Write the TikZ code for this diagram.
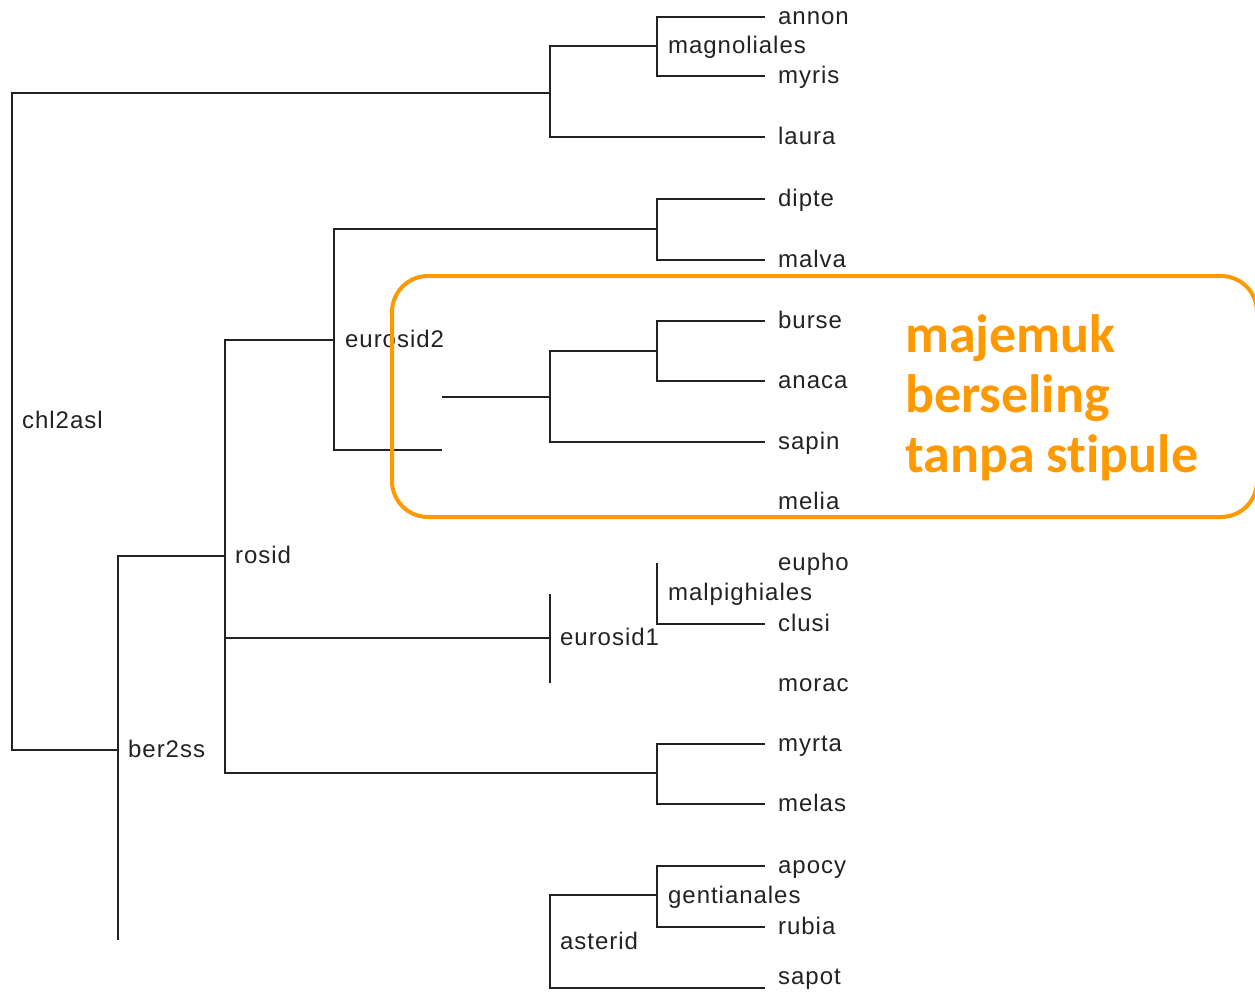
\documentclass[tikz,border=0pt]{standalone}
\usepackage{fontspec}
\setmainfont{Liberation Sans}[LetterSpace=4]
\newfontfamily\notefont{Carlito}[Ligatures=NoCommon]
\definecolor{treeink}{HTML}{222222}
\definecolor{noteorange}{HTML}{FF9900}
\begin{document}
\begin{tikzpicture}[x=1pt,y=-1pt,
  branch/.style={draw=treeink,line width=2.2pt},
  taxon/.style={anchor=mid west,inner sep=0pt,yshift=-5pt,text=treeink,font=\fontsize{24}{26}\selectfont},
  notebox/.style={draw=noteorange,line width=4pt,rounded corners=36pt},
  notetext/.style={anchor=base west,inner sep=0pt,align=left,text=noteorange,
    font=\notefont\bfseries\fontsize{54}{60}\selectfont}]
\useasboundingbox (0,0) rectangle (1255,994);
% internal nodes
\coordinate (root) at (12,421);
\coordinate (nA) at (550,93);
\coordinate (nMag) at (657,46);
\coordinate (nB) at (118,750);
\coordinate (bEnd) at (118,940);
\coordinate (nRosid) at (225,556);
\coordinate (nEuTwo) at (334,340);
\coordinate (nMalv) at (657,229);
\coordinate (cutA) at (442,450);
\coordinate (cutB) at (442,397);
\coordinate (nSap) at (550,397);
\coordinate (nBur) at (657,351);
\coordinate (nEuOne) at (550,638);
\coordinate (euOneTop) at (550,594);
\coordinate (euOneBot) at (550,683);
\coordinate (malpTop) at (657,563);
\coordinate (nMyrt) at (657,773);
\coordinate (nAst) at (550,942);
\coordinate (nGent) at (657,895);
% leaf tips
\foreach \n/\y in {annon/17,myris/76,laura/137,dipte/199,malva/260,burse/321,anaca/381,sapin/442,clusi/624,myrta/744,melas/804,apocy/866,rubia/927,sapot/988}
  \coordinate (t\n) at (765,\y);
% leaf labels
\foreach \n/\y in {annon/17,myris/76,laura/137,dipte/199,malva/260,burse/321,anaca/381,sapin/442,melia/502,eupho/563,clusi/624,morac/684,myrta/744,melas/804,apocy/866,rubia/927,sapot/977}
  \node[taxon] (l\n) at (778,\y) {\n};
% clade labels
\node[taxon] (lmag) at (668,46) {magnoliales};
\node[taxon] (lroot) at (22,421) {chl2asl};
\node[taxon] (lber) at (128,750) {ber2ss};
\node[taxon] (lrosid) at (235,556) {rosid};
\node[taxon] (leutwo) at (345,340) {eurosid2};
\node[taxon] (leuone) at (560,638) {eurosid1};
\node[taxon] (lmalp) at (668,593) {malpighiales};
\node[taxon] (lgent) at (668,896) {gentianales};
\node[taxon] (last) at (560,942) {asterid};
% branches
\draw[branch] (nA) -| (root) |- (nB);
\draw[branch] (nMag) -| (nA) |- (tlaura);
\draw[branch] (tannon) -| (nMag) |- (tmyris);
\draw[branch] (nRosid) -| (nB) -- (bEnd);
\draw[branch] (nEuTwo) -| (nRosid) |- (nMyrt);
\draw[branch] (nRosid |- nEuOne) -- (nEuOne);
\draw[branch] (nMalv) -| (nEuTwo) |- (cutA);
\draw[branch] (tdipte) -| (nMalv) |- (tmalva);
\draw[branch] (cutB) -- (nSap);
\draw[branch] (nBur) -| (nSap) |- (tsapin);
\draw[branch] (tburse) -| (nBur) |- (tanaca);
\draw[branch] (euOneTop) -- (euOneBot);
\draw[branch] (malpTop) |- (tclusi);
\draw[branch] (tmyrta) -| (nMyrt) |- (tmelas);
\draw[branch] (nGent) -| (nAst) |- (tsapot);
\draw[branch] (tapocy) -| (nGent) |- (trubia);
% highlight
\draw[notebox] (392,276) rectangle (1257,517);
\node[notetext] (note) at (905,472) {majemuk\\berseling\\tanpa stipule};
\end{tikzpicture}
\end{document}
